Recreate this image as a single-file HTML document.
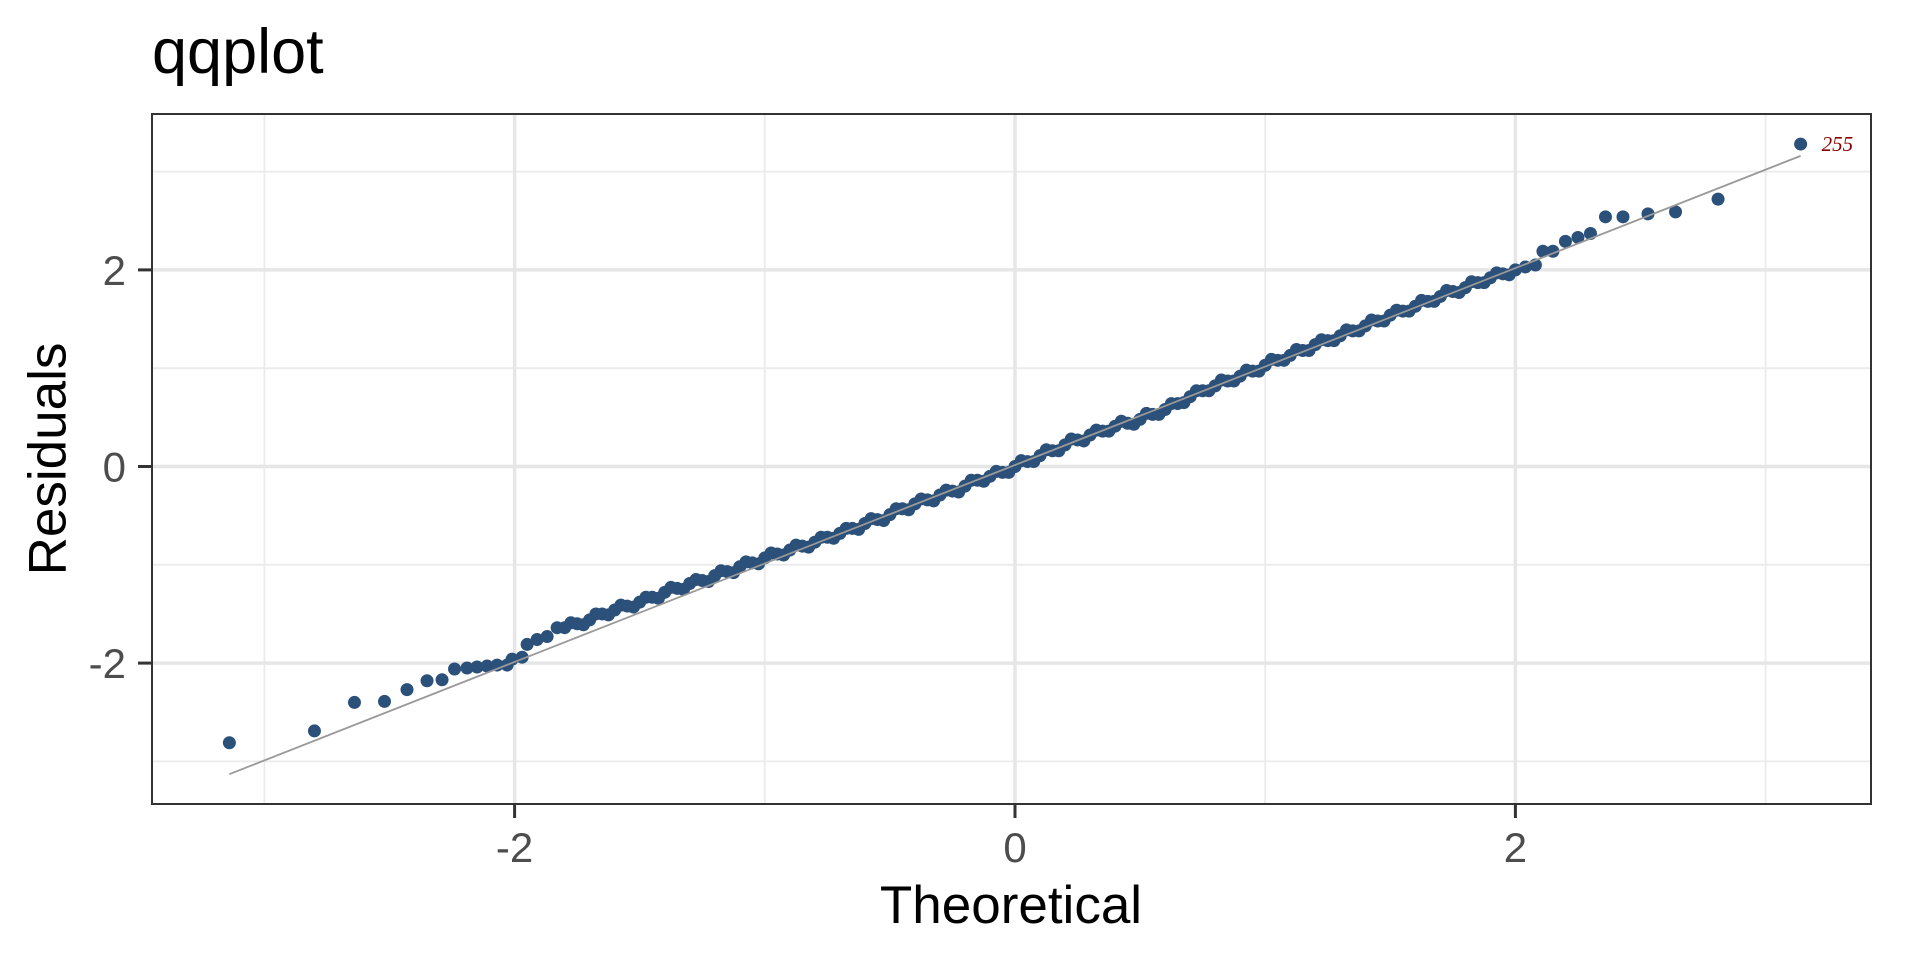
<!DOCTYPE html>
<html><head><meta charset="utf-8"><style>
html,body{margin:0;padding:0;background:#fff;}
svg{display:block;font-family:"Liberation Sans",sans-serif;}
</style></head><body>
<svg id="chart" width="1920" height="960" viewBox="0 0 1920 960">
<text x="152" y="73" font-size="63" fill="#000">qqplot</text>
<g id="grid"></g>
<g id="refline"></g>
<g id="points"></g>
<rect x="152" y="114" width="1719" height="690" fill="none" stroke="#333" stroke-width="2"/>
<g id="axes"></g>
<text x="1011" y="923" font-size="53" text-anchor="middle" fill="#000">Theoretical</text>
<text transform="translate(48,459) rotate(-90)" font-size="53" text-anchor="middle" dominant-baseline="central" fill="#000">Residuals</text>
</svg>
<script>
const theoretical = [-3.14,-2.80,-2.64,-2.52,-2.43,-2.35,-2.29,-2.24,-2.19,-2.15,-2.11,-2.07,-2.03,-2.01,-1.97,-1.95,-1.91,-1.87,-1.83,
-1.80,-1.75,-1.70,-1.65,-1.60,-1.55,-1.50,-1.45,-1.40,-1.35,-1.30,-1.25,-1.20,-1.15,-1.10,-1.05,-1.00,-0.95,-0.90,-0.85,-0.80,-0.75,-0.70,-0.65,-0.60,-0.55,-0.50,-0.45,-0.40,-0.35,-0.30,-0.25,-0.20,-0.15,-0.10,-0.05,0.00,0.05,0.10,0.15,0.20,0.25,0.30,0.35,0.40,0.45,0.50,0.55,0.60,0.65,0.70,0.75,0.80,0.85,0.90,0.95,1.00,1.05,1.10,1.15,1.20,1.25,1.30,1.35,1.40,1.45,1.50,1.55,1.60,1.65,1.70,1.75,1.80,1.85,1.90,1.95,2.00,
-1.775,-1.725,-1.675,-1.625,-1.575,-1.525,-1.475,-1.425,-1.375,-1.325,-1.275,-1.225,-1.175,-1.125,-1.075,-1.025,-0.975,-0.925,-0.875,-0.825,-0.775,-0.725,-0.675,-0.625,-0.575,-0.525,-0.475,-0.425,-0.375,-0.325,-0.275,-0.225,-0.175,-0.125,-0.075,-0.025,0.025,0.075,0.125,0.175,0.225,0.275,0.325,0.375,0.425,0.475,0.525,0.575,0.625,0.675,0.725,0.775,0.825,0.875,0.925,0.975,1.025,1.075,1.125,1.175,1.225,1.275,1.325,1.375,1.425,1.475,1.525,1.575,1.625,1.675,1.725,1.775,1.825,1.875,1.925,1.975,
2.04,2.08,2.11,2.15,2.20,2.25,2.30,2.36,2.43,2.53,2.64,2.81,3.14];
const residuals = [-2.81,-2.69,-2.40,-2.39,-2.27,-2.18,-2.17,-2.06,-2.05,-2.04,-2.03,-2.02,-2.02,-1.96,-1.94,-1.81,-1.76,-1.73,-1.64,
-1.64,-1.60,-1.56,-1.50,-1.46,-1.42,-1.38,-1.33,-1.28,-1.24,-1.19,-1.16,-1.11,-1.07,-1.02,-0.98,-0.93,-0.89,-0.85,-0.81,-0.77,-0.72,-0.68,-0.63,-0.58,-0.54,-0.49,-0.43,-0.38,-0.34,-0.29,-0.25,-0.20,-0.14,-0.10,-0.06,0.00,0.05,0.11,0.16,0.22,0.27,0.32,0.36,0.41,0.44,0.48,0.53,0.58,0.64,0.71,0.77,0.82,0.87,0.92,0.97,1.03,1.08,1.13,1.18,1.24,1.28,1.33,1.38,1.43,1.48,1.54,1.58,1.63,1.68,1.73,1.78,1.82,1.87,1.92,1.96,2.00,
-1.59,-1.61,-1.50,-1.51,-1.41,-1.43,-1.33,-1.34,-1.23,-1.25,-1.15,-1.17,-1.06,-1.08,-0.97,-0.99,-0.88,-0.90,-0.80,-0.82,-0.72,-0.73,-0.63,-0.64,-0.53,-0.55,-0.43,-0.44,-0.33,-0.35,-0.24,-0.26,-0.14,-0.15,-0.05,-0.06,0.06,0.05,0.17,0.16,0.28,0.26,0.37,0.36,0.46,0.43,0.54,0.53,0.64,0.65,0.77,0.77,0.88,0.87,0.98,0.97,1.09,1.08,1.19,1.18,1.29,1.28,1.39,1.38,1.49,1.48,1.59,1.58,1.69,1.68,1.79,1.77,1.88,1.87,1.97,1.95,
2.03,2.05,2.19,2.19,2.29,2.33,2.37,2.54,2.54,2.57,2.59,2.72,3.28];
const refLineX = [-3.14, 3.14];
const refLineY = [-3.13, 3.16];
const xTicks = [-2, 0, 2];
const xTickLabels = ["-2", "0", "2"];
const yTicks = [-2, 0, 2];
const yTickLabels = ["-2", "0", "2"];
const xMinor = [-3, -1, 1, 3];
const yMinor = [-3, -1, 1, 3];
const outlierLabel = "255";

const L=152,R=1871,T=114,B=804;
const sx = v => 1015 + v*250.2;
const sy = v => 466.5 - v*98.3;
const NS="http://www.w3.org/2000/svg";
function mk(tag, attrs, parent){const e=document.createElementNS(NS,tag);for(const k in attrs)e.setAttribute(k,attrs[k]);parent.appendChild(e);return e;}
const grid=document.getElementById('grid'), pts=document.getElementById('points'), axes=document.getElementById('axes'), rl=document.getElementById('refline');

mk('rect',{x:L,y:T,width:R-L,height:B-T,fill:'#fff'},grid);
xMinor.forEach(v=>{const e=mk('line',{x1:sx(v),x2:sx(v),y1:T,y2:B,stroke:'#ebebeb','stroke-width':1.8},grid);

});
yMinor.forEach(v=>{const e=mk('line',{x1:L,x2:R,y1:sy(v),y2:sy(v),stroke:'#ebebeb','stroke-width':1.8},grid);

});
xTicks.forEach((v,i)=>{const e=mk('line',{x1:sx(v),x2:sx(v),y1:T,y2:B,stroke:'#e6e6e6','stroke-width':3.5},grid);


const t=mk('line',{x1:sx(v),x2:sx(v),y1:B,y2:B+14,stroke:'#333','stroke-width':3},axes);


const l=mk('text',{x:sx(v),y:862,'font-size':42,'text-anchor':'middle',fill:'#4d4d4d'},axes);
l.textContent=xTickLabels[i];

});
yTicks.forEach((v,i)=>{const e=mk('line',{x1:L,x2:R,y1:sy(v),y2:sy(v),stroke:'#e6e6e6','stroke-width':3.5},grid);


const t=mk('line',{x1:L-14,x2:L,y1:sy(v),y2:sy(v),stroke:'#333','stroke-width':3},axes);


const l=mk('text',{x:126,y:sy(v)+15,'font-size':42,'text-anchor':'end',fill:'#4d4d4d'},axes);
l.textContent=yTickLabels[i];

});

const line=mk('line',{x1:sx(refLineX[0]),y1:sy(refLineY[0]),x2:sx(refLineX[1]),y2:sy(refLineY[1]),stroke:'#999','stroke-width':1.8},rl);



theoretical.forEach((v,i)=>{const c=mk('circle',{cx:sx(v),cy:sy(residuals[i]),r:6.5,fill:'#2b5079'},pts);

});
rl.parentNode.appendChild(rl);

const last=theoretical.length-1;
const ol=mk('text',{x:sx(theoretical[last])+21,y:sy(residuals[last])+7,'font-size':21,'font-style':'italic','font-family':'"Liberation Serif",serif',fill:'#8b0000'},axes);
ol.textContent=outlierLabel;


</script>
</body></html>
